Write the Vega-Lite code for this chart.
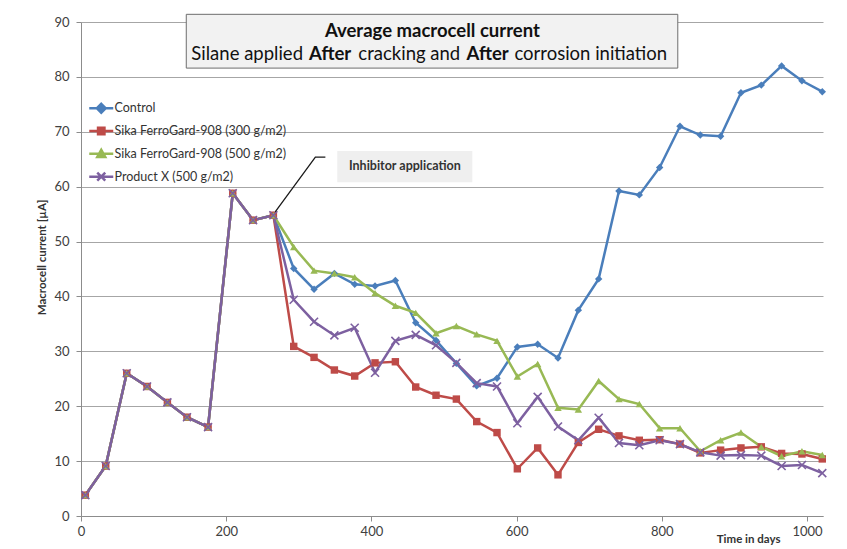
{
  "$schema": "https://vega.github.io/schema/vega-lite/v6.json",
  "width": 742,
  "height": 494,
  "autosize": "none",
  "padding": {"left": 81, "top": 22, "right": 24, "bottom": 33},
  "background": "white",
  "config": {"view": {"stroke": null}, "font": "Lato"},
  "datasets": {
    "series": [
      {"series": "Control", "day": 6, "value": 3.8}, {"series": "Control", "day": 34, "value": 9.1}, {"series": "Control", "day": 63, "value": 26.0}, {"series": "Control", "day": 91, "value": 23.6}, {"series": "Control", "day": 119, "value": 20.7}, {"series": "Control", "day": 146, "value": 18.0}, {"series": "Control", "day": 175, "value": 16.2}, {"series": "Control", "day": 209, "value": 58.8}, {"series": "Control", "day": 237, "value": 53.9}, {"series": "Control", "day": 265, "value": 54.8},
      {"series": "Control", "day": 293, "value": 45.1}, {"series": "Control", "day": 321, "value": 41.3}, {"series": "Control", "day": 349, "value": 44.2}, {"series": "Control", "day": 377, "value": 42.2}, {"series": "Control", "day": 405, "value": 41.9}, {"series": "Control", "day": 433, "value": 42.9}, {"series": "Control", "day": 461, "value": 35.2}, {"series": "Control", "day": 489, "value": 32.0}, {"series": "Control", "day": 517, "value": 27.8}, {"series": "Control", "day": 545, "value": 23.7}, {"series": "Control", "day": 573, "value": 25.1}, {"series": "Control", "day": 601, "value": 30.8}, {"series": "Control", "day": 629, "value": 31.3}, {"series": "Control", "day": 657, "value": 28.8}, {"series": "Control", "day": 685, "value": 37.5}, {"series": "Control", "day": 713, "value": 43.2}, {"series": "Control", "day": 741, "value": 59.2}, {"series": "Control", "day": 769, "value": 58.5}, {"series": "Control", "day": 797, "value": 63.5}, {"series": "Control", "day": 825, "value": 71.0}, {"series": "Control", "day": 853, "value": 69.4}, {"series": "Control", "day": 881, "value": 69.2}, {"series": "Control", "day": 909, "value": 77.1}, {"series": "Control", "day": 937, "value": 78.5}, {"series": "Control", "day": 965, "value": 82.0}, {"series": "Control", "day": 993, "value": 79.3}, {"series": "Control", "day": 1021, "value": 77.3},

      {"series": "Sika FerroGard-908 (300 g/m2)", "day": 6, "value": 3.8}, {"series": "Sika FerroGard-908 (300 g/m2)", "day": 34, "value": 9.1}, {"series": "Sika FerroGard-908 (300 g/m2)", "day": 63, "value": 26.0}, {"series": "Sika FerroGard-908 (300 g/m2)", "day": 91, "value": 23.6}, {"series": "Sika FerroGard-908 (300 g/m2)", "day": 119, "value": 20.7}, {"series": "Sika FerroGard-908 (300 g/m2)", "day": 146, "value": 18.0}, {"series": "Sika FerroGard-908 (300 g/m2)", "day": 175, "value": 16.2}, {"series": "Sika FerroGard-908 (300 g/m2)", "day": 209, "value": 58.8}, {"series": "Sika FerroGard-908 (300 g/m2)", "day": 237, "value": 53.9}, {"series": "Sika FerroGard-908 (300 g/m2)", "day": 265, "value": 54.8},
      {"series": "Sika FerroGard-908 (300 g/m2)", "day": 293, "value": 30.9}, {"series": "Sika FerroGard-908 (300 g/m2)", "day": 321, "value": 28.9}, {"series": "Sika FerroGard-908 (300 g/m2)", "day": 349, "value": 26.6}, {"series": "Sika FerroGard-908 (300 g/m2)", "day": 377, "value": 25.5}, {"series": "Sika FerroGard-908 (300 g/m2)", "day": 405, "value": 27.9}, {"series": "Sika FerroGard-908 (300 g/m2)", "day": 433, "value": 28.1}, {"series": "Sika FerroGard-908 (300 g/m2)", "day": 461, "value": 23.5}, {"series": "Sika FerroGard-908 (300 g/m2)", "day": 489, "value": 22.0}, {"series": "Sika FerroGard-908 (300 g/m2)", "day": 517, "value": 21.3}, {"series": "Sika FerroGard-908 (300 g/m2)", "day": 545, "value": 17.2}, {"series": "Sika FerroGard-908 (300 g/m2)", "day": 573, "value": 15.2}, {"series": "Sika FerroGard-908 (300 g/m2)", "day": 601, "value": 8.6}, {"series": "Sika FerroGard-908 (300 g/m2)", "day": 629, "value": 12.4}, {"series": "Sika FerroGard-908 (300 g/m2)", "day": 657, "value": 7.5}, {"series": "Sika FerroGard-908 (300 g/m2)", "day": 685, "value": 13.4}, {"series": "Sika FerroGard-908 (300 g/m2)", "day": 713, "value": 15.8}, {"series": "Sika FerroGard-908 (300 g/m2)", "day": 741, "value": 14.6}, {"series": "Sika FerroGard-908 (300 g/m2)", "day": 769, "value": 13.8}, {"series": "Sika FerroGard-908 (300 g/m2)", "day": 797, "value": 13.9}, {"series": "Sika FerroGard-908 (300 g/m2)", "day": 825, "value": 13.1}, {"series": "Sika FerroGard-908 (300 g/m2)", "day": 853, "value": 11.5}, {"series": "Sika FerroGard-908 (300 g/m2)", "day": 881, "value": 12.0}, {"series": "Sika FerroGard-908 (300 g/m2)", "day": 909, "value": 12.4}, {"series": "Sika FerroGard-908 (300 g/m2)", "day": 937, "value": 12.6}, {"series": "Sika FerroGard-908 (300 g/m2)", "day": 965, "value": 11.4}, {"series": "Sika FerroGard-908 (300 g/m2)", "day": 993, "value": 11.3}, {"series": "Sika FerroGard-908 (300 g/m2)", "day": 1021, "value": 10.4},

      {"series": "Sika FerroGard-908 (500 g/m2)", "day": 6, "value": 3.8}, {"series": "Sika FerroGard-908 (500 g/m2)", "day": 34, "value": 9.1}, {"series": "Sika FerroGard-908 (500 g/m2)", "day": 63, "value": 26.0}, {"series": "Sika FerroGard-908 (500 g/m2)", "day": 91, "value": 23.6}, {"series": "Sika FerroGard-908 (500 g/m2)", "day": 119, "value": 20.7}, {"series": "Sika FerroGard-908 (500 g/m2)", "day": 146, "value": 18.0}, {"series": "Sika FerroGard-908 (500 g/m2)", "day": 175, "value": 16.2}, {"series": "Sika FerroGard-908 (500 g/m2)", "day": 209, "value": 58.8}, {"series": "Sika FerroGard-908 (500 g/m2)", "day": 237, "value": 53.9}, {"series": "Sika FerroGard-908 (500 g/m2)", "day": 265, "value": 54.8},
      {"series": "Sika FerroGard-908 (500 g/m2)", "day": 293, "value": 49.0}, {"series": "Sika FerroGard-908 (500 g/m2)", "day": 321, "value": 44.7}, {"series": "Sika FerroGard-908 (500 g/m2)", "day": 349, "value": 44.2}, {"series": "Sika FerroGard-908 (500 g/m2)", "day": 377, "value": 43.5}, {"series": "Sika FerroGard-908 (500 g/m2)", "day": 405, "value": 40.6}, {"series": "Sika FerroGard-908 (500 g/m2)", "day": 433, "value": 38.3}, {"series": "Sika FerroGard-908 (500 g/m2)", "day": 461, "value": 37.0}, {"series": "Sika FerroGard-908 (500 g/m2)", "day": 489, "value": 33.3}, {"series": "Sika FerroGard-908 (500 g/m2)", "day": 517, "value": 34.6}, {"series": "Sika FerroGard-908 (500 g/m2)", "day": 545, "value": 33.1}, {"series": "Sika FerroGard-908 (500 g/m2)", "day": 573, "value": 31.9}, {"series": "Sika FerroGard-908 (500 g/m2)", "day": 601, "value": 25.4}, {"series": "Sika FerroGard-908 (500 g/m2)", "day": 629, "value": 27.7}, {"series": "Sika FerroGard-908 (500 g/m2)", "day": 657, "value": 19.7}, {"series": "Sika FerroGard-908 (500 g/m2)", "day": 685, "value": 19.4}, {"series": "Sika FerroGard-908 (500 g/m2)", "day": 713, "value": 24.6}, {"series": "Sika FerroGard-908 (500 g/m2)", "day": 741, "value": 21.3}, {"series": "Sika FerroGard-908 (500 g/m2)", "day": 769, "value": 20.4}, {"series": "Sika FerroGard-908 (500 g/m2)", "day": 797, "value": 16.0}, {"series": "Sika FerroGard-908 (500 g/m2)", "day": 825, "value": 16.0}, {"series": "Sika FerroGard-908 (500 g/m2)", "day": 853, "value": 11.8}, {"series": "Sika FerroGard-908 (500 g/m2)", "day": 881, "value": 13.8}, {"series": "Sika FerroGard-908 (500 g/m2)", "day": 909, "value": 15.2}, {"series": "Sika FerroGard-908 (500 g/m2)", "day": 937, "value": 12.6}, {"series": "Sika FerroGard-908 (500 g/m2)", "day": 965, "value": 10.9}, {"series": "Sika FerroGard-908 (500 g/m2)", "day": 993, "value": 11.8}, {"series": "Sika FerroGard-908 (500 g/m2)", "day": 1021, "value": 11.1},

      {"series": "Product X (500 g/m2)", "day": 6, "value": 3.8}, {"series": "Product X (500 g/m2)", "day": 34, "value": 9.1}, {"series": "Product X (500 g/m2)", "day": 63, "value": 26.0}, {"series": "Product X (500 g/m2)", "day": 91, "value": 23.6}, {"series": "Product X (500 g/m2)", "day": 119, "value": 20.7}, {"series": "Product X (500 g/m2)", "day": 146, "value": 18.0}, {"series": "Product X (500 g/m2)", "day": 175, "value": 16.2}, {"series": "Product X (500 g/m2)", "day": 209, "value": 58.8}, {"series": "Product X (500 g/m2)", "day": 237, "value": 53.9}, {"series": "Product X (500 g/m2)", "day": 265, "value": 54.8},
      {"series": "Product X (500 g/m2)", "day": 293, "value": 39.4}, {"series": "Product X (500 g/m2)", "day": 321, "value": 35.4}, {"series": "Product X (500 g/m2)", "day": 349, "value": 32.9}, {"series": "Product X (500 g/m2)", "day": 377, "value": 34.3}, {"series": "Product X (500 g/m2)", "day": 405, "value": 26.1}, {"series": "Product X (500 g/m2)", "day": 433, "value": 31.9}, {"series": "Product X (500 g/m2)", "day": 461, "value": 33.0}, {"series": "Product X (500 g/m2)", "day": 489, "value": 31.1}, {"series": "Product X (500 g/m2)", "day": 517, "value": 27.9}, {"series": "Product X (500 g/m2)", "day": 545, "value": 24.2}, {"series": "Product X (500 g/m2)", "day": 573, "value": 23.6}, {"series": "Product X (500 g/m2)", "day": 601, "value": 16.9}, {"series": "Product X (500 g/m2)", "day": 629, "value": 21.7}, {"series": "Product X (500 g/m2)", "day": 657, "value": 16.3}, {"series": "Product X (500 g/m2)", "day": 685, "value": 13.8}, {"series": "Product X (500 g/m2)", "day": 713, "value": 17.9}, {"series": "Product X (500 g/m2)", "day": 741, "value": 13.3}, {"series": "Product X (500 g/m2)", "day": 769, "value": 12.9}, {"series": "Product X (500 g/m2)", "day": 797, "value": 13.8}, {"series": "Product X (500 g/m2)", "day": 825, "value": 13.1}, {"series": "Product X (500 g/m2)", "day": 853, "value": 11.6}, {"series": "Product X (500 g/m2)", "day": 881, "value": 11.0}, {"series": "Product X (500 g/m2)", "day": 909, "value": 11.1}, {"series": "Product X (500 g/m2)", "day": 937, "value": 11.0}, {"series": "Product X (500 g/m2)", "day": 965, "value": 9.1}, {"series": "Product X (500 g/m2)", "day": 993, "value": 9.3}, {"series": "Product X (500 g/m2)", "day": 1021, "value": 7.8}
    ],
    "titlebox": [{"day": 145, "day2": 822, "value": 91.4, "value2": 81.6}],
    "titlemain": [{"day": 484, "value": 87.2, "label": "Average macrocell current"}],
    "titleregular": [
      {"day": 152, "value": 83.0, "label": "Silane applied"},
      {"day": 382, "value": 83.0, "label": "cracking and"},
      {"day": 597, "value": 83.0, "label": "corrosion initiation"}
    ],
    "titlebold": [
      {"day": 314, "value": 83.0, "label": "After"},
      {"day": 531, "value": 83.0, "label": "After"}
    ],
    "calloutbox": [{"day": 353, "day2": 539, "value": 66.5, "value2": 60.8}],
    "callouttext": [{"day": 446, "value": 63.0, "label": "Inhibitor application"}],
    "leader": [
      {"day": 267.5, "value": 55.4},
      {"day": 322.8, "value": 65.4},
      {"day": 336.6, "value": 65.4}
    ]
  },
  "encoding": {
    "x": {
      "field": "day", "type": "quantitative",
      "scale": {"domain": [0, 1022], "nice": false, "zero": false},
      "axis": {
        "values": [0, 200, 400, 600, 800, 1000],
        "format": "d",
        "grid": false,
        "domainColor": "#8c8c8c", "tickColor": "#8c8c8c", "tickSize": 5,
        "labelFontSize": 13, "labelColor": "#404040", "labelPadding": 4, "labelFlush": false, "labelOverlap": false,
        "title": "Time in days", "titleFontSize": 11.5, "titleFontWeight": "bold", "titleColor": "#333333",
        "titleX": 699, "titleY": 26, "titleAlign": "right", "titleBaseline": "alphabetic"
      }
    },
    "y": {
      "field": "value", "type": "quantitative",
      "scale": {"domain": [0, 90], "nice": false},
      "axis": {
        "values": [0, 10, 20, 30, 40, 50, 60, 70, 80, 90],
        "grid": true, "gridColor": "#a6a6a6", "gridWidth": 1,
        "domainColor": "#8c8c8c", "tickColor": "#8c8c8c", "tickSize": 5,
        "labelFontSize": 13, "labelColor": "#404040", "labelPadding": 7,
        "title": "Macrocell current [µA]", "titleFontSize": 11.5, "titleFontWeight": "bold", "titleColor": "#333333",
        "titleX": -39, "titleY": 235, "titleAlign": "center", "titleBaseline": "middle", "titleAngle": -90
      }
    }
  },
  "layer": [
    {
      "data": {"name": "series"},
      "mark": {"type": "line", "strokeWidth": 2.5},
      "encoding": {
        "color": {
          "field": "series", "type": "nominal",
          "scale": {
            "domain": ["Control", "Sika FerroGard-908 (300 g/m2)", "Sika FerroGard-908 (500 g/m2)", "Product X (500 g/m2)"],
            "range": ["#4A7EBB", "#BE4B48", "#98B954", "#7D60A0"]
          },
          "legend": {
            "title": null, "orient": "none", "legendX": 14, "legendY": 80,
            "symbolSize": 64, "symbolStrokeWidth": 2.5,
            "labelFont": "Lato", "labelFontSize": 12.5, "labelColor": "#333333", "labelOffset": 7, "labelLimit": 0,
            "rowPadding": 4.8, "padding": 0,
            "encode": {
              "symbols": {
                "update": {
                  "shape": {"signal": "datum.value === 'Control' ? 'M-3,0H3M0,-1.1L1.1,0L0,1.1L-1.1,0Z' : datum.value === 'Sika FerroGard-908 (300 g/m2)' ? 'M-3,0H3M-0.8,-0.8H0.8V0.8H-0.8Z' : datum.value === 'Sika FerroGard-908 (500 g/m2)' ? 'M-3,0H3M0,-1L1,0.8H-1Z' : 'M-3,0H3M-1,-1L1,1M-1,1L1,-1'"},
                  "fill": {"scale": "color", "field": "value"},
                  "stroke": {"scale": "color", "field": "value"},
                  "strokeWidth": {"value": 2.5},
                  "opacity": {"value": 1}
                }
              }
            }
          }
        }
      }
    },
    {
      "data": {"name": "series"},
      "transform": [{"filter": "datum.series !== 'Product X (500 g/m2)'"}],
      "mark": {"type": "point", "filled": true, "opacity": 1, "size": 55},
      "encoding": {
        "color": {"field": "series", "type": "nominal", "legend": null},
        "shape": {
          "field": "series", "type": "nominal", "legend": null,
          "scale": {
            "domain": ["Control", "Sika FerroGard-908 (300 g/m2)", "Sika FerroGard-908 (500 g/m2)"],
            "range": ["diamond", "square", "triangle-up"]
          }
        }
      }
    },
    {
      "data": {"name": "series"},
      "transform": [{"filter": "datum.series === 'Product X (500 g/m2)'"}],
      "mark": {"type": "point", "filled": false, "opacity": 1, "size": 64, "strokeWidth": 1.6, "color": "#7D60A0", "shape": "M-1,-1L1,1M-1,1L1,-1"},
      "encoding": {}
    },
    {
      "data": {"name": "titlebox"},
      "mark": {"type": "rect", "fill": "#f2f2f2", "stroke": "#6e6e6e", "strokeWidth": 1},
      "encoding": {"x2": {"field": "day2"}, "y2": {"field": "value2"}}
    },
    {
      "data": {"name": "titlemain"},
      "mark": {"type": "text", "font": "Lato", "fontSize": 18.5, "fontWeight": "bold", "color": "#111111", "align": "center", "baseline": "alphabetic"},
      "encoding": {"text": {"field": "label"}}
    },
    {
      "data": {"name": "titleregular"},
      "mark": {"type": "text", "font": "Lato", "fontSize": 18.5, "fontWeight": "normal", "color": "#111111", "align": "left", "baseline": "alphabetic"},
      "encoding": {"text": {"field": "label"}}
    },
    {
      "data": {"name": "titlebold"},
      "mark": {"type": "text", "font": "Lato", "fontSize": 18.5, "fontWeight": "bold", "color": "#111111", "align": "left", "baseline": "alphabetic"},
      "encoding": {"text": {"field": "label"}}
    },
    {
      "data": {"name": "calloutbox"},
      "mark": {"type": "rect", "fill": "#efefef", "stroke": null},
      "encoding": {"x2": {"field": "day2"}, "y2": {"field": "value2"}}
    },
    {
      "data": {"name": "callouttext"},
      "mark": {"type": "text", "font": "Lato", "fontSize": 12.5, "fontWeight": "bold", "color": "#333333", "align": "center", "baseline": "alphabetic"},
      "encoding": {"text": {"field": "label"}}
    },
    {
      "data": {"name": "leader"},
      "mark": {"type": "line", "color": "#1a1a1a", "strokeWidth": 1.3},
      "encoding": {}
    }
  ]
}
